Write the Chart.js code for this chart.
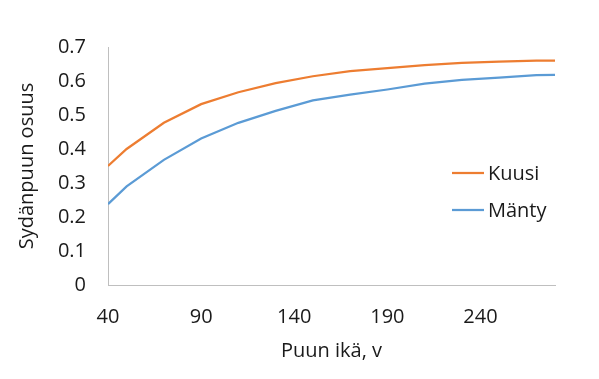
<!DOCTYPE html>
<html>
<head>
<meta charset="utf-8">
<script src="https://cdn.jsdelivr.net/npm/chart.js@4"></script>
<style>
  html, body { margin: 0; padding: 0; background: #fff; }
  #wrap { width: 599px; height: 379px; }
</style>
</head>
<body>
<div id="wrap"><canvas id="chart" width="599" height="379"></canvas></div>
<script>
// ages (years) and heartwood share per species
const ages = [40, 50, 70, 90, 110, 130, 150, 170, 190, 210, 230, 250, 270, 280];
const kuusi = [0.350, 0.400, 0.477, 0.532, 0.567, 0.594, 0.614, 0.629, 0.638, 0.647, 0.653, 0.657, 0.660, 0.660];
const manty = [0.238, 0.290, 0.368, 0.431, 0.477, 0.512, 0.543, 0.560, 0.575, 0.592, 0.603, 0.610, 0.617, 0.618];
const xTicks = [40, 90, 140, 190, 240];
const seriesNames = ['Kuusi', 'Mänty'];
const seriesColors = ['#ED7D31', '#5B9BD5'];

const FONT = '"Open Sans", "DejaVu Sans", sans-serif';
const TEXT = '#1a1a1a';
const SIZE = 20;

// legend sits inside the plot, like the original
const inlineLegend = {
    id: 'inlineLegend',
    afterDraw(chart) {
        const ctx = chart.ctx;
        const x0 = 452, lineLen = 32;
        const rows = [173, 210];
        ctx.save();
        ctx.font = SIZE + 'px ' + FONT;
        ctx.textBaseline = 'middle';
        chart.data.datasets.forEach((ds, i) => {
            const y = rows[i];
            ctx.strokeStyle = ds.borderColor;
            ctx.lineWidth = 2.25;
            ctx.beginPath();
            ctx.moveTo(x0, y);
            ctx.lineTo(x0 + lineLen, y);
            ctx.stroke();
            ctx.fillStyle = TEXT;
            ctx.fillText(ds.label, x0 + lineLen + 4, y + 1);
        });
        ctx.restore();
    },
};

new Chart(document.getElementById('chart'), {
    type: 'line',
    data: {
        datasets: [
            {
                label: seriesNames[0],
                data: ages.map((a, i) => ({ x: a, y: kuusi[i] })),
                borderColor: seriesColors[0],
                borderWidth: 2.25,
                pointRadius: 0,
                tension: 0,
            },
            {
                label: seriesNames[1],
                data: ages.map((a, i) => ({ x: a, y: manty[i] })),
                borderColor: seriesColors[1],
                borderWidth: 2.25,
                pointRadius: 0,
                tension: 0,
            },
        ],
    },
    options: {
        responsive: false,
        animation: false,
        layout: { padding: { top: 47, right: 44, left: 0, bottom: 0 } },
        plugins: {
            legend: { display: false },
            tooltip: { enabled: false },
        },
        scales: {
            x: {
                type: 'linear',
                min: 40,
                max: 280,
                afterBuildTicks: s => { s.ticks = xTicks.map(v => ({ value: v })); },
                afterFit: s => { s.height = 94; },
                grid: { display: false, drawTicks: false },
                border: { color: '#BFBFBF', width: 1 },
                ticks: { color: TEXT, font: { family: FONT, size: SIZE }, padding: 20, maxRotation: 0 },
                title: {
                    display: true,
                    text: 'Puun ikä, v',
                    color: TEXT,
                    font: { family: FONT, size: SIZE },
                    padding: { top: 0, bottom: 16 },
                },
            },
            y: {
                min: 0,
                max: 0.7,
                afterFit: s => { s.width = 108; },
                grid: { display: false, drawTicks: false },
                border: { color: '#BFBFBF', width: 1 },
                ticks: {
                    stepSize: 0.1,
                    color: TEXT,
                    font: { family: FONT, size: SIZE },
                    padding: 22,
                    callback: v => (Math.round(v * 10) / 10).toString(),
                },
                title: {
                    display: true,
                    text: 'Sydänpuun osuus',
                    color: TEXT,
                    font: { family: FONT, size: SIZE },
                    padding: { top: 15 },
                },
            },
        },
    },
    plugins: [inlineLegend],
});
</script>
</body>
</html>
